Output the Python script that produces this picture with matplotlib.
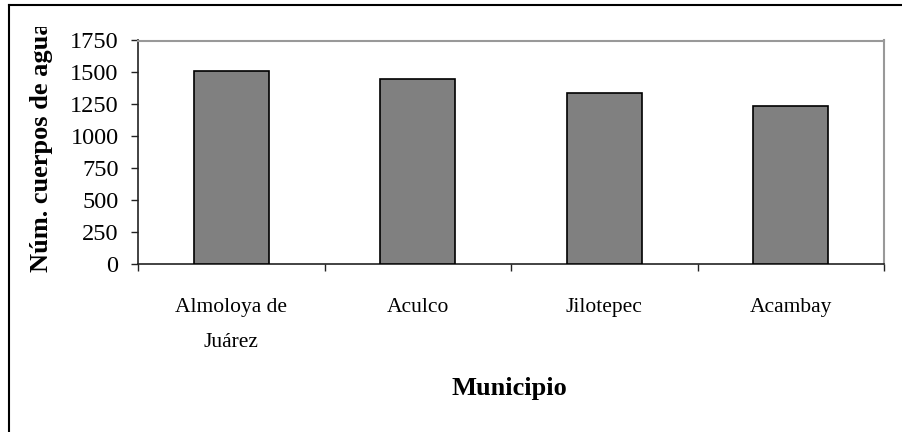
import matplotlib.pyplot as plt
import numpy as np
from matplotlib.transforms import Bbox
from matplotlib.lines import Line2D

municipios = ['Almoloya de\nJuárez', 'Aculco', 'Jilotepec', 'Acambay']
cuerpos_agua = [1510, 1450, 1340, 1235]
y_ticks = [0, 250, 500, 750, 1000, 1250, 1500, 1750]

plt.rcParams['font.family'] = ['Liberation Serif', 'DejaVu Serif']

W, H = 902, 432
fig = plt.figure(figsize=(W / 100, H / 100), dpi=100)
ax = fig.add_axes([138 / W, 1 - 263.5 / H, (884 - 138) / W, (263.5 - 40.5) / H])

x = np.arange(len(cuerpos_agua))
ax.bar(x, cuerpos_agua, width=0.4, color='#808080', edgecolor='black', linewidth=1.2, zorder=3)

ax.set_xlim(-0.5, len(x) - 0.5)
ax.set_ylim(0, 1750)
ax.set_yticks(y_ticks)
ax.set_yticklabels([str(v) for v in y_ticks], fontsize=17.5)

# ticks at category boundaries, labels centered
ax.set_xticks(np.arange(len(x) + 1) - 0.5)
ax.set_xticklabels([])
ax.set_xticks(x, minor=True)
ax.set_xticklabels(municipios, minor=True, fontsize=15.5)
for lbl in ax.get_xticklabels(minor=True):
    lbl.set_linespacing(2.15)
ax.tick_params(axis='x', which='minor', length=0, pad=24.5)
ax.tick_params(axis='x', which='major', direction='out', length=5, width=1, color='#222222')
ax.tick_params(axis='y', direction='out', length=5, width=1, color='#222222', pad=9)

for s in ['left', 'bottom']:
    ax.spines[s].set_color('#222222')
    ax.spines[s].set_linewidth(1.2)
for s in ['top', 'right']:
    ax.spines[s].set_color('#999999')
    ax.spines[s].set_linewidth(1.5)

# y label, clipped at the top like the original
yl = fig.text(42 / W, 1 - 272 / H, 'Núm. cuerpos de agua', rotation=90,
              ha='center', va='bottom', fontsize=19, fontweight='bold')
yl.set_clip_box(Bbox.from_extents(0, 0, W, H - 27))
yl.set_clip_on(True)

fig.text(509 / W, 1 - 388 / H, 'Municipio', ha='center', va='center',
         fontsize=19, fontweight='bold')

# chart frame (only top and left visible)
fig.add_artist(Line2D([8.5 / W, 1], [1 - 4.5 / H, 1 - 4.5 / H], color='black', lw=1.5, transform=fig.transFigure))
fig.add_artist(Line2D([8.5 / W, 8.5 / W], [0, 1 - 4.5 / H], color='black', lw=1.5, transform=fig.transFigure))

fig.savefig('out.png', dpi=100)
